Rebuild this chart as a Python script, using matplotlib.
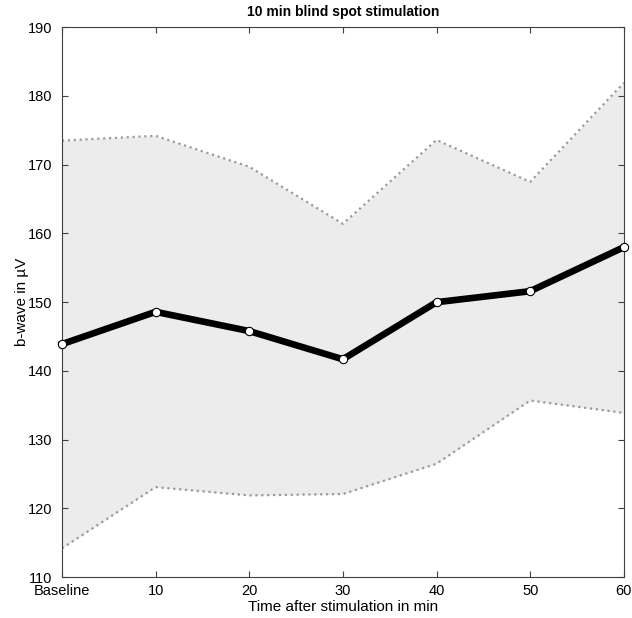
import matplotlib
matplotlib.use("Agg")
import matplotlib.pyplot as plt

plt.rcParams['font.family'] = ['Liberation Sans', 'DejaVu Sans']

tick_labels = ["Baseline", "10", "20", "30", "40", "50", "60"]
mean_bwave = [143.9, 148.6, 145.8, 141.7, 150.0, 151.6, 158.0]
upper_bwave = [173.5, 174.2, 169.7, 161.4, 173.6, 167.5, 181.9]
lower_bwave = [114.2, 123.1, 121.9, 122.1, 126.5, 135.7, 133.9]

x = list(range(len(tick_labels)))

fig = plt.figure(figsize=(6.32, 6.18), dpi=100)
ax = fig.add_axes([0.098, 0.066, 0.889, 0.89])

ax.fill_between(x, lower_bwave, upper_bwave, color='#ececec', lw=0, zorder=1)
ax.plot(x, upper_bwave, ls=':', color='#9a9a9a', lw=1.6, zorder=2)
ax.plot(x, lower_bwave, ls=':', color='#9a9a9a', lw=1.6, zorder=2)
ax.plot(x, mean_bwave, color='black', lw=4.8, zorder=3,
        marker='o', markersize=6, markerfacecolor='white',
        markeredgecolor='black', markeredgewidth=0.8, clip_on=False)

ax.set_xlim(0, 6)
ax.set_ylim(110, 190)
ax.set_xticks(x)
ax.set_xticklabels(tick_labels)
ax.set_yticks(range(110, 191, 10))

ax.tick_params(direction='in', top=True, right=True, length=4,
               width=0.8, color='#404040', labelsize=10.5)
ax.tick_params(axis='y', pad=7)
ax.tick_params(axis='x', pad=5)
for s in ax.spines.values():
    s.set_color('#404040')
    s.set_linewidth(0.8)

ax.set_title("10 min blind spot stimulation", fontsize=10, fontweight='bold', pad=8)
ax.set_xlabel("Time after stimulation in min", fontsize=11, labelpad=1)
ax.set_ylabel("b-wave in µV", fontsize=11, labelpad=-1)

fig.savefig("out.png", dpi=100)
